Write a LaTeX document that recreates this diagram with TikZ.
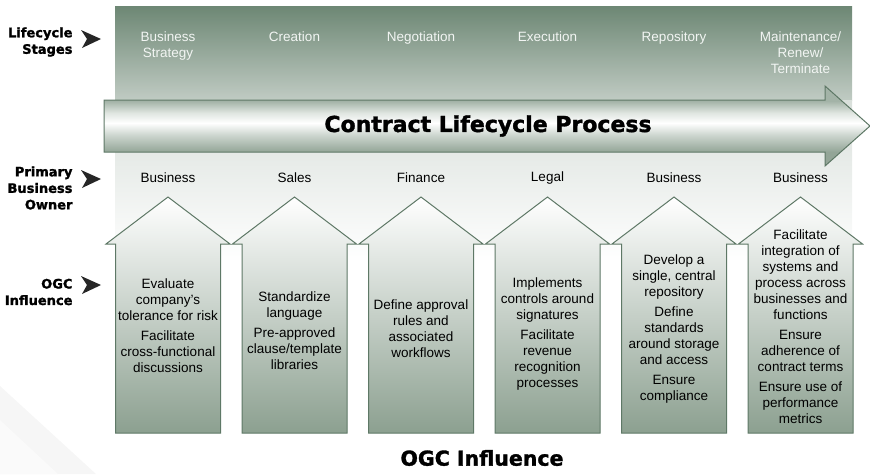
\documentclass[tikz,border=0pt]{standalone}
\usepackage{fontspec}
\setmainfont{Liberation Sans}
\newfontfamily\heavyfont{DejaVu Sans}[BoldFont={DejaVu Sans Bold},BoldFeatures={FakeBold=1.5}]
\definecolor{panelgreen}{RGB}{109,135,116}
\definecolor{panellight}{RGB}{192,203,195}
\definecolor{edgegreen}{RGB}{94,120,102}
\definecolor{arrowdark}{RGB}{140,160,144}
\definecolor{stagetext}{RGB}{242,245,243}
\definecolor{shadebot}{RGB}{147,165,151}
\definecolor{shademid}{RGB}{205,214,207}
\definecolor{shadeup}{RGB}{224,230,225}
\definecolor{shadetop}{RGB}{163,179,167}
\pgfdeclareverticalshading{shaftshade}{100bp}{color(0bp)=(shadebot); color(33.75bp)=(shadebot);
  color(44.4bp)=(shademid); color(51.9bp)=(white); color(58.1bp)=(shadeup); color(65.6bp)=(shadetop); color(100bp)=(shadetop)}

\begin{document}
\begin{tikzpicture}[x=1pt,y=-1pt]
\tikzstyle{stage}=[text=stagetext,align=center,anchor=north,font=\fontsize{13.5}{16}\selectfont]
\tikzstyle{owner}=[align=center,font=\fontsize{13.5}{16}\selectfont]
\tikzstyle{influence}=[align=center,font=\fontsize{13.5}{16}\selectfont]
\tikzstyle{side}=[align=right,anchor=east,font=\heavyfont\bfseries\fontsize{13}{16.5}\selectfont]
\tikzstyle{pointer}=[fill=black!85]
\tikzstyle{uparrow}=[draw=edgegreen,line width=1pt,top color=white,bottom color=arrowdark]
\useasboundingbox (0,0) rectangle (870,474);

\fill[gray!7] (0,386) -- (96,474) -- (0,474) -- cycle;
\fill[gray!4] (0,420) -- (58,474) -- (0,474) -- cycle;

\shade[top color=panelgreen,bottom color=panellight] (115,6) rectangle (852,100);
\shade[top color=panellight!60!white,bottom color=white] (115,100) rectangle (852,262);

\shadedraw[draw=edgegreen,line width=1pt,shading=shaftshade]
  (104,100) -- (825,100) -- (825,86) -- (870,126) -- (825,166) -- (825,152) -- (104,152) -- cycle;
\node[font=\heavyfont\bfseries\fontsize{22}{26}\selectfont] (clp) at (488,126) {Contract Lifecycle Process};

\node[side] (lstage) at (76,42) {Lifecycle\\Stages};
\node[side] (lowner) at (76,188) {Primary\\Business\\Owner};
\node[side] (logc) at (76,292) {OGC\\Influence};
\fill[pointer] (81,30) -- (101,39) -- (82,48) -- (87,39) -- cycle;
\fill[pointer] (81,170) -- (101,179) -- (82,188) -- (87,179) -- cycle;
\fill[pointer] (81,276) -- (101,285) -- (82,294) -- (87,285) -- cycle;

\node[stage] (s1) at (168,28) {Business\\Strategy};
\node[stage] (s2) at (294.5,28) {Creation};
\node[stage] (s3) at (421,28) {Negotiation};
\node[stage] (s4) at (547.5,28) {Execution};
\node[stage] (s5) at (674,28) {Repository};
\node[stage] (s6) at (800.5,28) {Maintenance/\\Renew/\\Terminate};

\node[owner] (o1) at (168,178) {Business};
\node[owner] (o2) at (294.5,178) {Sales};
\node[owner] (o3) at (421,178) {Finance};
\node[owner] (o4) at (547.5,178) {Legal};
\node[owner] (o5) at (674,178) {Business};
\node[owner] (o6) at (800.5,178) {Business};

\foreach \cx in {168,294.5,421,547.5,674,800.5}
  \draw[uparrow] (\cx-52.5,433) -- (\cx-52.5,244) -- (\cx-62,244) -- (\cx,197)
    -- (\cx+62,244) -- (\cx+52.5,244) -- (\cx+52.5,433) -- cycle;

\node[influence] (g1) at (168,326) {Evaluate\\company's\\tolerance for risk\\[4pt]Facilitate\\cross-functional\\discussions};
\node[influence] (g2) at (294.5,331) {Standardize\\language\\[4pt]Pre-approved\\clause/template\\libraries};
\node[influence] (g3) at (421,329) {Define approval\\rules and\\associated\\workflows};
\node[influence] (g4) at (547.5,334) {Implements\\controls around\\signatures\\[4pt]Facilitate\\revenue\\recognition\\processes};
\node[influence] (g5) at (674,329) {Develop a\\single, central\\repository\\[4pt]Define\\standards\\around storage\\and access\\[4pt]Ensure\\compliance};
\node[influence] (g6) at (800.5,327) {Facilitate\\integration of\\systems and\\process across\\businesses and\\functions\\[4pt]Ensure\\adherence of\\contract terms\\[4pt]Ensure use of\\performance\\metrics};

\node[font=\heavyfont\bfseries\fontsize{20.5}{24}\selectfont] (ogc) at (482,458) {OGC Influence};
\end{tikzpicture}
\end{document}
